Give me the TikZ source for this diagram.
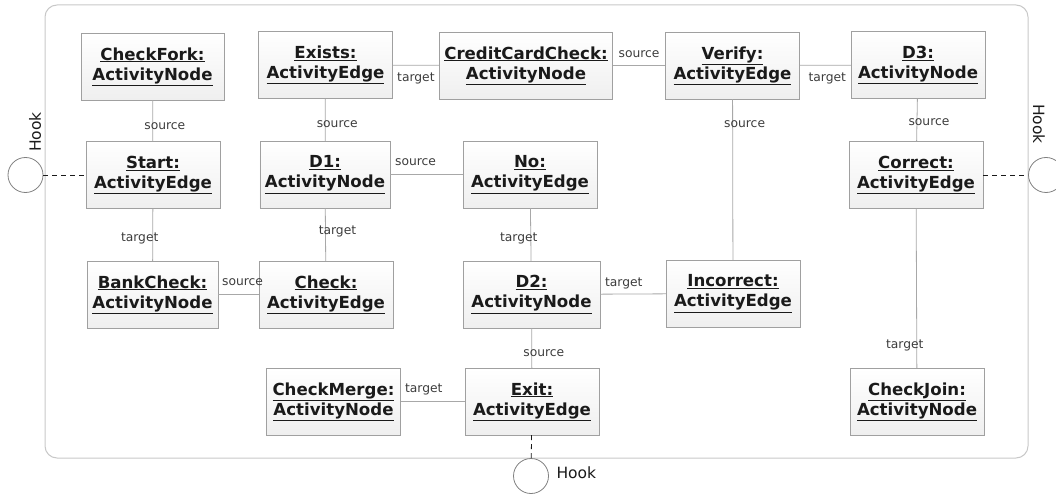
\documentclass[tikz,border=0pt]{standalone}
\usepackage{fontspec}
\setmainfont{DejaVu Sans}
\usepackage{xcolor}
\usepackage{tikz}
\definecolor{boxgray}{HTML}{A0A0A0}
\definecolor{linkgray}{HTML}{A8A8A8}
\definecolor{framegray}{HTML}{C8C8C8}
\definecolor{boxfill}{HTML}{EFEFEF}
\definecolor{inkdark}{HTML}{1A1A1A}
\newcommand{\objname}[2]{\underline{#1:}\\\underline{#2}}

\begin{document}
\begin{tikzpicture}[x=1pt,y=-1pt,
  objbox/.style={draw=boxgray, top color=white, bottom color=boxfill, minimum width=134pt,
    minimum height=67pt, inner xsep=5pt, align=center, text=inkdark,
    font=\bfseries\fontsize{16.6}{20}\selectfont},
  link/.style={draw=linkgray, line width=0.8pt},
  role/.style={font=\fontsize{12.3}{14}\selectfont, text=inkdark!85, inner sep=0pt},
  hookport/.style={circle, draw=gray, line width=0.8pt, minimum size=35pt, inner sep=0pt},
  hooklink/.style={draw=inkdark, line width=0.8pt, dash pattern=on 5pt off 4pt},
  hooktext/.style={font=\fontsize{15.5}{18}\selectfont, text=inkdark}]

\useasboundingbox (0,0) rectangle (1056,494);

% Frame of the pattern
\draw[framegray, line width=1pt, rounded corners=12pt] (45,5) rectangle (1028,458);

% Activity nodes and edges (objects)
\node[objbox, minimum width=143pt] (checkfork) at (152.5,66.5) {\objname{CheckFork}{ActivityNode}};
\node[objbox] (start) at (153,175) {\objname{Start}{ActivityEdge}};
\node[objbox, minimum width=131pt] (bankcheck) at (152.5,294.5) {\objname{BankCheck}{ActivityNode}};
\node[objbox] (exists) at (325.5,65) {\objname{Exists}{ActivityEdge}};
\node[objbox, minimum width=128pt] (d1) at (325,174.5) {\objname{D1}{ActivityNode}};
\node[objbox] (check) at (326,294.5) {\objname{Check}{ActivityEdge}};
\node[objbox] (checkmerge) at (333.5,401.5) {\objname{CheckMerge}{ActivityNode}};
\node[objbox] (creditcard) at (526,65.5) {\objname{CreditCardCheck}{ActivityNode}};
\node[objbox] (no) at (530,174.5) {\objname{No}{ActivityEdge}};
\node[objbox, minimum width=137pt] (d2) at (531.5,294.5) {\objname{D2}{ActivityNode}};
\node[objbox] (exit) at (532,401.5) {\objname{Exit}{ActivityEdge}};
\node[objbox] (verify) at (732.5,65.5) {\objname{Verify}{ActivityEdge}};
\node[objbox] (incorrect) at (733,293.5) {\objname{Incorrect}{ActivityEdge}};
\node[objbox] (d3) at (918,65) {\objname{D3}{ActivityNode}};
\node[objbox] (correct) at (916,175) {\objname{Correct}{ActivityEdge}};
\node[objbox] (checkjoin) at (917,401.5) {\objname{CheckJoin}{ActivityNode}};

% Links with their roles
\draw[link] (checkfork) -- node[role, pos=0.64, xshift=12pt] {source} (start);
\draw[link] (start) -- node[role, pos=0.58, xshift=-13pt] {target} (bankcheck);
\draw[link] (exists) -- node[role, pos=0.6, xshift=12pt] {source} (d1);
\draw[link] (exists) -- node[role, pos=0.5, yshift=-13pt] {target} (creditcard);
\draw[link] (creditcard) -- node[role, pos=0.5, yshift=11pt] {source} (verify);
\draw[link] (verify) -- node[role, pos=0.54, yshift=-13pt] {target} (d3);
\draw[link] (verify) -- node[role, pos=0.155, xshift=12pt] {source} (incorrect);
\draw[link] (d3) -- node[role, pos=0.55, xshift=12pt] {source} (correct);
\draw[link] (correct) -- node[role, pos=0.86, xshift=-12pt] {target} (checkjoin);
\draw[link] (d1) -- node[role, pos=0.35, yshift=12pt] {source} (no);
\draw[link] (d1) -- node[role, pos=0.45, xshift=12pt] {target} (check);
\draw[link] (no) -- node[role, pos=0.58, xshift=-12pt] {target} (d2);
\draw[link] (bankcheck) -- node[role, pos=0.6, yshift=12pt] {source} (check);
\draw[link] (d2) -- node[role, pos=0.36, yshift=11pt] {target} (incorrect);
\draw[link] (d2) -- node[role, pos=0.63, xshift=12pt] {source} (exit);
\draw[link] (checkmerge) -- node[role, pos=0.36, yshift=12pt] {target} (exit);

% Hooks
\node[hookport] (hookleft) at (25.5,175) {};
\node[hookport] (hookright) at (1046,175) {};
\node[hookport] (hookbottom) at (531,476) {};
\node[hooktext, rotate=90] (hookleftlbl) at (35,132) {Hook};
\node[hooktext, rotate=-90] (hookrightlbl) at (1039,124) {Hook};
\node[hooktext, anchor=west] (hookbottomlbl) at (553,473) {Hook};
\draw[hooklink] (hookleft) -- (start);
\draw[hooklink] (correct) -- (hookright);
\draw[hooklink] (exit) -- (hookbottom);

\end{tikzpicture}
\end{document}
